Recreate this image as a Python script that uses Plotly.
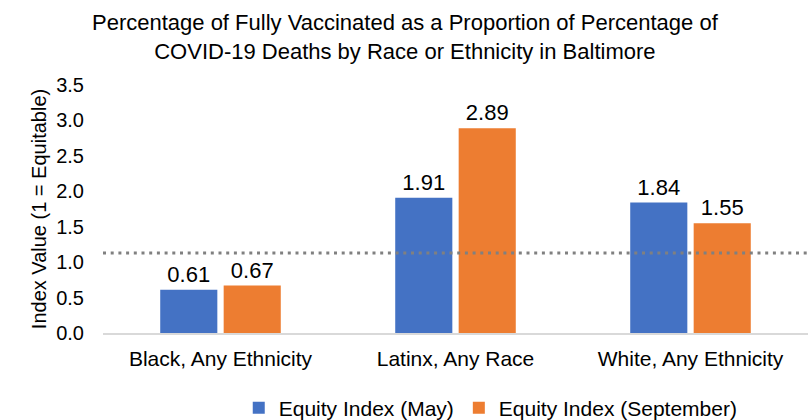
import plotly.graph_objects as go

categories = ["Black, Any Ethnicity", "Latinx, Any Race", "White, Any Ethnicity"]
may_values = [0.61, 1.91, 1.84]
sept_values = [0.67, 2.89, 1.55]
series_names = ["Equity Index (May)", "Equity Index (September)"]
reference_level = 1.13
title_text = ("Percentage of Fully Vaccinated as a Proportion of Percentage of<br>"
              "COVID-19 Deaths by Race or Ethnicity in Baltimore")

FONT = "Liberation Sans, Arial, sans-serif"
BLUE = "#4472C4"
ORANGE = "#ED7D31"

W, H = 810, 420
M_L, M_R, M_T, M_B = 103, 2, 85, 87
PLOT_W, PLOT_H = W - M_L - M_R, H - M_T - M_B

fig = go.Figure()
for name, vals, color in [(series_names[0], may_values, BLUE),
                          (series_names[1], sept_values, ORANGE)]:
    fig.add_trace(go.Bar(
        x=categories, y=vals, name=name, marker=dict(color=color, line=dict(width=0)),
        text=[f"{v:.2f}" for v in vals], textposition="outside",
        textfont=dict(family=FONT, size=22, color="#000000"), cliponaxis=False,
    ))

# dotted equity reference line across the full plot width
fig.add_shape(type="line", xref="paper", yref="y", x0=0, x1=1,
              y0=reference_level, y1=reference_level,
              line=dict(color="#808080", width=3, dash="3px,4.7px"))

# two-line chart title, centred on the page
fig.add_annotation(text=title_text, xref="paper", yref="paper",
                   x=(W / 2 - M_L) / PLOT_W, y=(H - M_B - 37) / PLOT_H,
                   xanchor="center", yanchor="middle",
                   showarrow=False, align="center",
                   font=dict(family=FONT, size=22, color="#000000"))

fig.update_layout(
    width=W, height=H,
    margin=dict(l=M_L, r=M_R, t=M_T, b=M_B, autoexpand=False),
    paper_bgcolor="white", plot_bgcolor="white",
    barmode="group", bargap=0.46, bargroupgap=0.1,
    font=dict(family=FONT, color="#000000"),
    xaxis=dict(showline=True, linecolor="#D9D9D9", linewidth=1.5, ticks="",
               ticklabelstandoff=6,
               tickfont=dict(family=FONT, size=21, color="#000000")),
    yaxis=dict(range=[0, 3.5], dtick=0.5, tickformat=".1f", showgrid=False,
               zeroline=False, showline=False,
               ticks="outside", ticklen=14, tickcolor="rgba(0,0,0,0)",
               tickfont=dict(family=FONT, size=20, color="#000000"),
               title=dict(text="Index Value (1 = Equitable)", standoff=4,
                          font=dict(family=FONT, size=20, color="#000000"))),
    legend=dict(orientation="h", x=0.55, xanchor="center",
                yref="container", y=12 / H, yanchor="middle",
                font=dict(family=FONT, size=21, color="#000000"),
                itemwidth=30, traceorder="normal"),
)

fig.write_html("out.html")
